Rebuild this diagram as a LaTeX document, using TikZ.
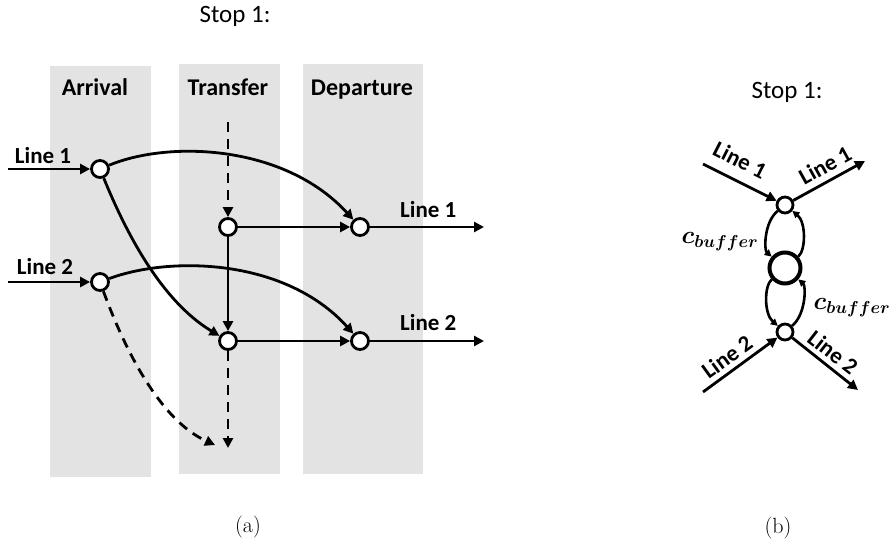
\documentclass[tikz,border=0pt]{standalone}
\usepackage{fontspec}
\newfontfamily\calibri{Carlito}
\usetikzlibrary{arrows.meta}
\begin{document}
\begin{tikzpicture}[x=1pt,y=-1pt,
  lane/.style={fill=black!11, draw=none},
  stn/.style={circle, draw, line width=2.8pt, fill=white, minimum size=17pt, inner sep=0pt},
  hub/.style={circle, draw, line width=4pt, fill=white, minimum size=31pt, inner sep=0pt},
  conn/.style={line width=2.8pt, -{Triangle[length=10pt,width=10pt]}},
  loopc/.style={line width=2.6pt, -{Triangle[length=7pt,width=7pt]}},
  dashc/.style={conn, dash pattern=on 10pt off 7pt},
  head/.style={font=\calibri\bfseries\fontsize{24}{28}\selectfont, inner sep=0pt, anchor=base},
  lbl/.style={font=\calibri\bfseries\fontsize{23}{27}\selectfont, inner sep=0pt},
  title/.style={font=\calibri\fontsize{25}{30}\selectfont, inner sep=0pt, anchor=base},
  captext/.style={font=\fontsize{22}{26}\selectfont, inner sep=0pt},
  buf/.style={font=\boldmath\fontsize{27}{31}\selectfont, inner sep=0pt}]
\useasboundingbox (0,0) rectangle (889,546);

% ---------- (a) time-expanded stop ----------
\fill[lane] (50,66) rectangle (151,477);
\fill[lane] (179,64) rectangle (280,474);
\fill[lane] (303,64) rectangle (423,474);

\node[title] (stopA) at (235,23) {Stop 1:};
\node[head] (hArr) at (95,95) {Arrival};
\node[head] (hTra) at (228,95) {Transfer};
\node[head] (hDep) at (362,95) {Departure};

\node[stn] (A1) at (100,169) {};
\node[stn] (A2) at (100,282) {};
\node[stn] (T1) at (228,227) {};
\node[stn] (T2) at (228,341) {};
\node[stn] (D1) at (360,227) {};
\node[stn] (D2) at (360,341) {};

\coordinate (in1) at (8,169);
\coordinate (in2) at (8,282);
\coordinate (out1) at (484,227);
\coordinate (out2) at (484,341);
\coordinate (tin) at (228,122);
\coordinate (tout) at (228,448);
\coordinate (wout) at (215,445);

\draw[conn] (in1) -- (A1);
\draw[conn] (in2) -- (A2);
\node[lbl] (lin1) at (43,156) {Line 1};
\node[lbl] (lin2) at (45,267) {Line 2};

\draw[conn] (A1) .. controls (170,140) and (285,145) .. (D1);
\draw[conn] (A2) .. controls (170,256) and (285,258) .. (D2);
\draw[conn] (A1) .. controls (125,230) and (160,300) .. (T2);
\draw[dashc] (A2) .. controls (125,350) and (160,420) .. (wout);

\draw[dashc] (tin) -- (T1);
\draw[conn] (T1) -- (T2);
\draw[dashc] (T2) -- (tout);
\draw[conn] (T1) -- (D1);
\draw[conn] (T2) -- (D2);

\draw[conn] (D1) -- (out1);
\draw[conn] (D2) -- (out2);
\node[lbl, anchor=west] (lout1) at (400,210) {Line 1};
\node[lbl, anchor=west] (lout2) at (400,323) {Line 2};

\node[captext] (capA) at (248,527) {(a)};

% ---------- (b) aggregated stop ----------
\node[title] (stopB) at (787,98) {Stop 1:};

\node[stn, minimum size=16pt] (B1) at (785,205) {};
\node[hub] (BM) at (785,268) {};
\node[stn, minimum size=16pt] (B2) at (785,332) {};

\coordinate (bi1) at (703,164);
\coordinate (bo1) at (865,161);
\coordinate (bi2) at (703,392);
\coordinate (bo2) at (858,390);

\draw[conn] (bi1) -- (B1);
\draw[conn] (B1) -- (bo1);
\draw[conn] (bi2) -- (B2);
\draw[conn] (B2) -- (bo2);

\node[lbl, rotate=-27] (bl1) at (740,160) {Line 1};
\node[lbl, rotate=29] (bl2) at (825,165) {Line 1};
\node[lbl, rotate=36] (bl3) at (727,357) {Line 2};
\node[lbl, rotate=-38] (bl4) at (833,352) {Line 2};

\draw[loopc] (B1) .. controls (764,222) and (764,250) .. (BM);
\draw[loopc] (BM) .. controls (806,250) and (806,222) .. (B1);
\draw[loopc] (BM) .. controls (764,286) and (764,314) .. (B2);
\draw[loopc] (B2) .. controls (806,314) and (806,286) .. (BM);

\node[buf] (cb1) at (720,242) {$c_{buffer}$};
\node[buf] (cb2) at (852,308) {$c_{buffer}$};

\node[captext] (capB) at (778,528) {(b)};
\end{tikzpicture}
\end{document}
